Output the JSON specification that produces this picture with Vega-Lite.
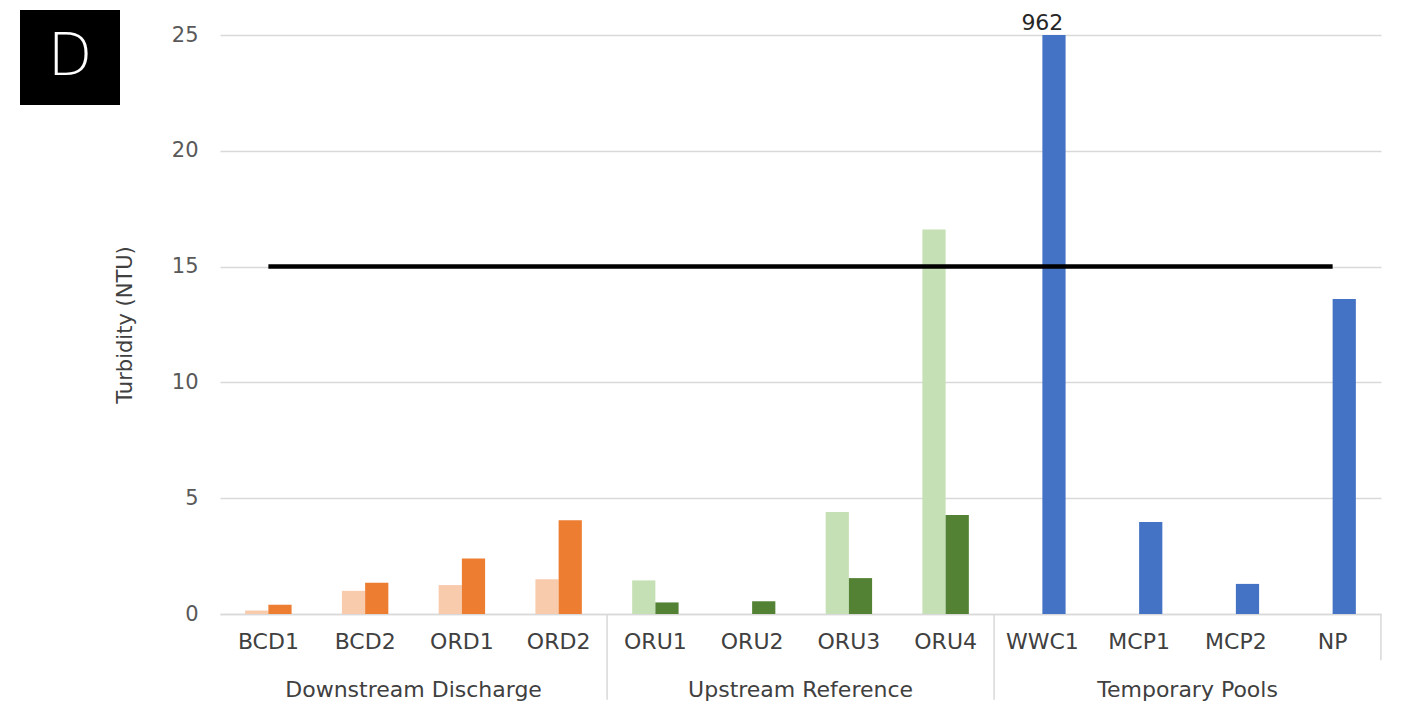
{
  "$schema": "https://vega.github.io/schema/vega-lite/v6.json",
  "padding": {"left": 20, "top": 4, "right": 27, "bottom": 0},
  "background": "white",
  "config": {"font": "DejaVu Sans", "view": {"stroke": null}},
  "bounds": "flush",
  "spacing": 100,
  "hconcat": [
    {
      "width": 100,
      "height": 95,
      "view": {"fill": "black", "stroke": null},
      "data": {"values": [{"label": "D"}]},
      "mark": {"type": "text", "color": "white", "fontSize": 58, "fontWeight": 300, "align": "center", "baseline": "middle"},
      "encoding": {"text": {"field": "label"}}
    },
    {
      "bounds": "flush",
      "spacing": 24,
      "vconcat": [
        {
          "width": 1161,
          "height": 1,
          "data": {"values": [{"label": ""}]},
          "mark": {"type": "text"},
          "encoding": {"text": {"field": "label"}}
        },
        {
          "width": 1161,
          "height": 579,
          "data": {
            "values": [
              {"site": "BCD1", "group": "Downstream Discharge", "sampling": "1", "series": "Downstream 1", "value": 0.15},
              {"site": "BCD1", "group": "Downstream Discharge", "sampling": "2", "series": "Downstream 2", "value": 0.4},
              {"site": "BCD2", "group": "Downstream Discharge", "sampling": "1", "series": "Downstream 1", "value": 1.0},
              {"site": "BCD2", "group": "Downstream Discharge", "sampling": "2", "series": "Downstream 2", "value": 1.35},
              {"site": "ORD1", "group": "Downstream Discharge", "sampling": "1", "series": "Downstream 1", "value": 1.25},
              {"site": "ORD1", "group": "Downstream Discharge", "sampling": "2", "series": "Downstream 2", "value": 2.4},
              {"site": "ORD2", "group": "Downstream Discharge", "sampling": "1", "series": "Downstream 1", "value": 1.5},
              {"site": "ORD2", "group": "Downstream Discharge", "sampling": "2", "series": "Downstream 2", "value": 4.05},
              {"site": "ORU1", "group": "Upstream Reference", "sampling": "1", "series": "Upstream 1", "value": 1.45},
              {"site": "ORU1", "group": "Upstream Reference", "sampling": "2", "series": "Upstream 2", "value": 0.5},
              {"site": "ORU2", "group": "Upstream Reference", "sampling": "1", "series": "Upstream 1", "value": 0},
              {"site": "ORU2", "group": "Upstream Reference", "sampling": "2", "series": "Upstream 2", "value": 0.55},
              {"site": "ORU3", "group": "Upstream Reference", "sampling": "1", "series": "Upstream 1", "value": 4.4},
              {"site": "ORU3", "group": "Upstream Reference", "sampling": "2", "series": "Upstream 2", "value": 1.55},
              {"site": "ORU4", "group": "Upstream Reference", "sampling": "1", "series": "Upstream 1", "value": 16.6},
              {"site": "ORU4", "group": "Upstream Reference", "sampling": "2", "series": "Upstream 2", "value": 4.27},
              {"site": "WWC1", "group": "Temporary Pools", "sampling": "2", "series": "Pools", "value": 962},
              {"site": "MCP1", "group": "Temporary Pools", "sampling": "2", "series": "Pools", "value": 3.97},
              {"site": "MCP2", "group": "Temporary Pools", "sampling": "2", "series": "Pools", "value": 1.3},
              {"site": "NP", "group": "Temporary Pools", "sampling": "2", "series": "Pools", "value": 13.6}
            ]
          },
          "layer": [
            {
              "mark": {"type": "bar", "clip": true},
              "encoding": {
                "x": {
                  "field": "site", "type": "nominal", "title": null,
                  "scale": {"domain": ["BCD1", "BCD2", "ORD1", "ORD2", "ORU1", "ORU2", "ORU3", "ORU4", "WWC1", "MCP1", "MCP2", "NP"], "paddingInner": 0.52, "paddingOuter": 0.26},
                  "axis": {"labelAngle": 0, "labelFontSize": 22, "labelColor": "#404040", "ticks": false, "domainColor": "#d9d9d9", "domainWidth": 1.5, "labelPadding": 17}
                },
                "xOffset": {"field": "sampling", "type": "nominal", "scale": {"domain": ["1", "2"], "paddingInner": 0, "paddingOuter": 0}},
                "y": {
                  "field": "value", "type": "quantitative",
                  "scale": {"domain": [0, 25], "nice": false},
                  "axis": {"values": [0, 5, 10, 15, 20, 25], "title": "Turbidity (NTU)", "titleFontSize": 21, "titleFontWeight": "normal", "titleColor": "#404040", "titlePadding": 36, "labelFontSize": 21, "labelColor": "#595959", "labelPadding": 22, "ticks": false, "domain": false, "gridColor": "#d9d9d9", "gridWidth": 1.3}
                },
                "color": {
                  "field": "series", "type": "nominal", "legend": null,
                  "scale": {"domain": ["Downstream 1", "Downstream 2", "Upstream 1", "Upstream 2", "Pools"], "range": ["#F8CBAD", "#ED7D31", "#C5E0B4", "#548235", "#4472C4"]}
                }
              }
            },
            {
              "transform": [{"filter": "datum.value > 25"}],
              "mark": {"type": "text", "fontSize": 22, "color": "#262626", "baseline": "alphabetic", "dy": -5},
              "encoding": {
                "x": {"field": "site", "type": "nominal", "title": null},
                "y": {"datum": 25},
                "text": {"field": "value", "type": "quantitative"}
              }
            },
            {
              "data": {"values": [{"site": "BCD1", "to": "NP"}]},
              "mark": {"type": "rule", "color": "black", "strokeWidth": 4.5},
              "encoding": {
                "x": {"field": "site", "type": "nominal", "title": null},
                "x2": {"field": "to"},
                "y": {"datum": 15}
              }
            },
            {
              "data": {"values": [{"site": "ORU1"}, {"site": "WWC1"}]},
              "mark": {"type": "rule", "color": "#d9d9d9", "strokeWidth": 1.5},
              "encoding": {
                "x": {"field": "site", "type": "nominal", "title": null, "bandPosition": -0.54},
                "y": {"datum": 0},
                "y2": {"datum": -3.7}
              }
            },
            {
              "data": {"values": [{"site": "NP"}]},
              "mark": {"type": "rule", "color": "#d9d9d9", "strokeWidth": 1.5},
              "encoding": {
                "x": {"field": "site", "type": "nominal", "title": null, "bandPosition": 1.54},
                "y": {"datum": 0},
                "y2": {"datum": -2}
              }
            },
            {
              "data": {"values": [{"site": "ORD1", "group": "Downstream Discharge"}, {"site": "ORU3", "group": "Upstream Reference"}, {"site": "MCP2", "group": "Temporary Pools"}]},
              "mark": {"type": "text", "fontSize": 22, "color": "#404040", "baseline": "middle", "dy": 76},
              "encoding": {
                "x": {"field": "site", "type": "nominal", "title": null, "bandPosition": -0.54},
                "y": {"datum": 0},
                "text": {"field": "group"}
              }
            }
          ]
        }
      ]
    }
  ]
}
